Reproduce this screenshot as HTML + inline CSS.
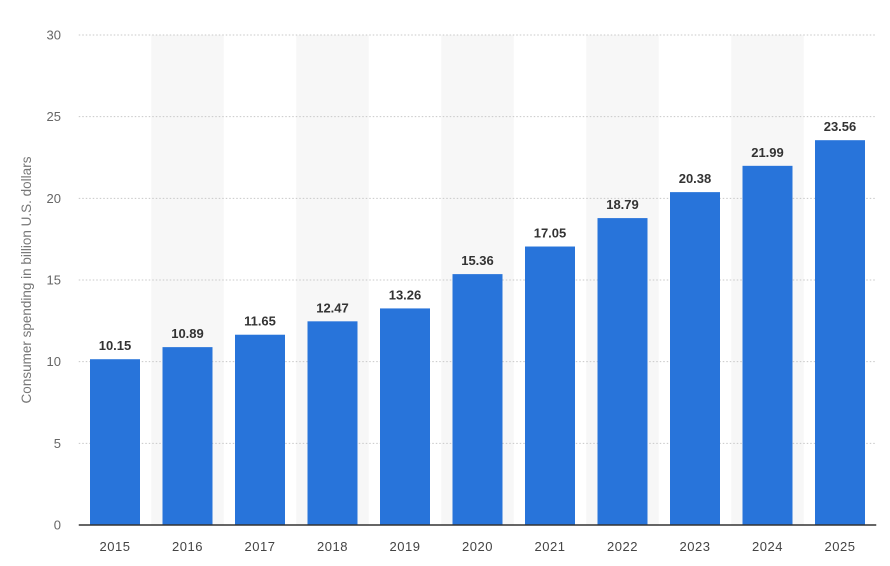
<!DOCTYPE html>
<html><head><meta charset="utf-8"><style>
body{margin:0;background:#fff;}
svg{display:block;font-family:"Liberation Sans",sans-serif;}
</style></head><body>
<svg id="c" width="890" height="566"></svg>
<script>
const categories=["2015","2016","2017","2018","2019","2020","2021","2022","2023","2024","2025"];
const values=[10.15,10.89,11.65,12.47,13.26,15.36,17.05,18.79,20.38,21.99,23.56];
const labels=["10.15","10.89","11.65","12.47","13.26","15.36","17.05","18.79","20.38","21.99","23.56"];
const yTicks=[0,5,10,15,20,25,30];
const svg=document.getElementById('c');
const NS='http://www.w3.org/2000/svg';
const L=78.75,R=876.25,T=35,B=525,yMax=30;
const bw=(R-L)/categories.length;
const y=v=>B-(v/yMax)*(B-T);
const xc=i=>L+bw*(i+0.5);
function mk(t,a,p){const e=document.createElementNS(NS,t);for(const k in a)e.setAttribute(k,a[k]);(p||svg).appendChild(e);return e;}
categories.forEach((c,i)=>{if(i%2===1){const r=mk('rect',{x:L+bw*i,y:T,width:bw,height:B-T,fill:'#f7f7f7'});

}});
yTicks.forEach(t=>{
 if(t>0){const g=mk('line',{x1:L,x2:R,y1:y(t),y2:y(t),stroke:'#c8c8c8','stroke-dasharray':'1.5,2'});
 
 }
 const tx=mk('text',{x:61,y:y(t)+4.5,'text-anchor':'end','font-size':'13',fill:'#666'});tx.textContent=t;
 
 
});
categories.forEach((c,i)=>{
 const b=mk('rect',{x:xc(i)-25,y:y(values[i]),width:50,height:B-y(values[i]),fill:'#2874da'});
 
 
 const v=mk('text',{x:xc(i),y:y(values[i])-9,'text-anchor':'middle','font-size':'13','font-weight':'bold',fill:'#333'});v.textContent=labels[i];
 
 
 const xl=mk('text',{x:xc(i),y:551,'text-anchor':'middle','font-size':'13',fill:'#444','letter-spacing':'0.5'});xl.textContent=c;
 
 
});
const ax=mk('line',{x1:L,x2:R,y1:B,y2:B,stroke:'#333','stroke-width':'1.5'});


const yt=mk('text',{x:0,y:0,transform:'translate(31,280) rotate(-90)','text-anchor':'middle','font-size':'13.5',fill:'#777'});
yt.textContent='Consumer spending in billion U.S. dollars';


</script>
</body></html>
